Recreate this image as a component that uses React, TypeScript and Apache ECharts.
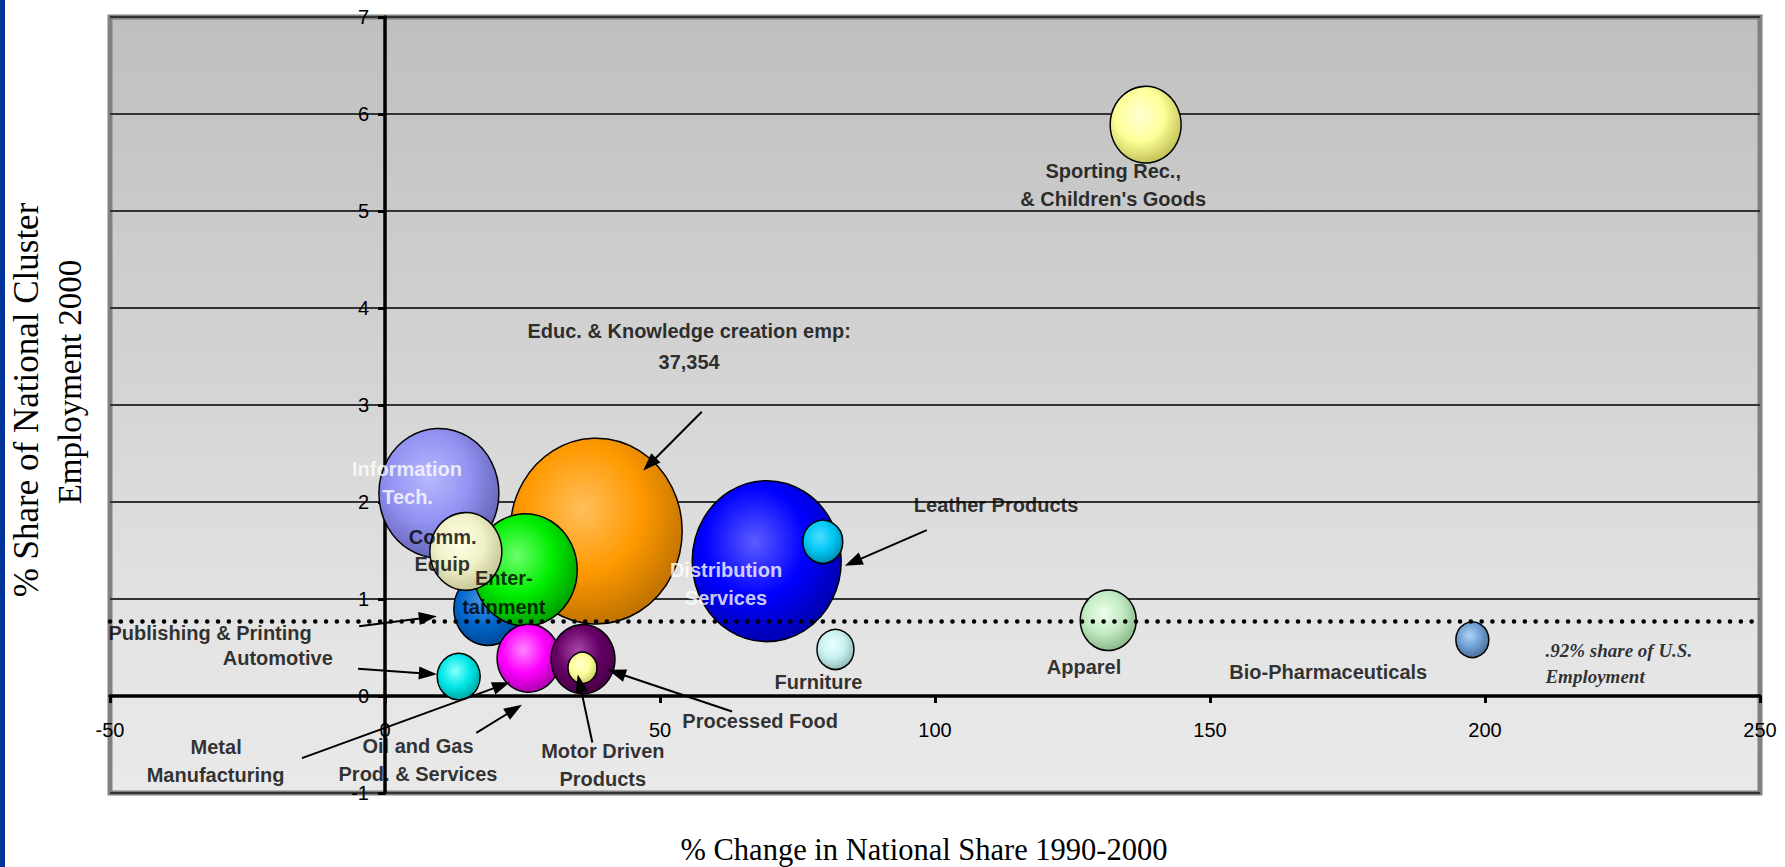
import React, { useEffect, useRef } from "react";
import * as echarts from "echarts";

// ---- Data ----
const clusters = [
  "Educ. & Knowledge Creation",
  "Information Tech.",
  "Distribution Services",
  "Publishing & Printing",
  "Entertainment",
  "Comm. Equip",
  "Metal Manufacturing",
  "Processed Food",
  "Motor Driven Products",
  "Automotive",
  "Leather Products",
  "Furniture",
  "Apparel",
  "Bio-Pharmaceuticals",
  "Sporting Rec. & Children's Goods",
];
// % change in national share 1990-2000
const pctChange = [38.4, 9.8, 69.4, 18.7, 25.5, 14.7, 26.1, 36.0, 35.9, 13.4, 79.6, 81.9, 131.5, 197.7, 138.3];
// % share of national cluster employment 2000
const shareOfEmployment = [1.7, 2.09, 1.39, 0.9, 1.3, 1.49, 0.39, 0.38, 0.29, 0.2, 1.59, 0.48, 0.78, 0.58, 5.89];
// cluster employment (bubble size)
const employment = [37354, 18180, 28030, 5840, 13650, 6545, 5010, 5170, 1060, 2335, 2020, 1730, 3960, 1375, 6364];

// axis ranges
const xMin = -50, xMax = 250, xStep = 50;
const yMin = -1, yMax = 7, yStep = 1;

// reference line: share of U.S. employment
const usShareLine = 0.77;

// annotation texts and their anchors (data coordinates)
const annotationText = [
  "Sporting Rec.,", "& Children's Goods",
  "Educ. & Knowledge creation emp:", "37,354",
  "Information", "Tech.",
  "Comm.", "Equip",
  "Enter-", "tainment",
  "Distribution", "Services",
  "Leather Products",
  "Publishing & Printing",
  "Automotive",
  "Metal", "Manufacturing",
  "Oil and Gas", "Prod. & Services",
  "Motor Driven", "Products",
  "Processed Food",
  "Furniture",
  "Apparel",
  "Bio-Pharmaceuticals",
];
const annotationX = [132.4, 132.4, 55.3, 55.3, 4.0, 4.1, 10.5, 10.4, 21.6, 21.6, 62.0, 62.0, 111.1, -31.8, -19.5, -30.7, -30.8, 6.0, 6.0, 39.6, 39.6, 68.2, 78.8, 127.1, 171.5];
const annotationY = [5.41, 5.12, 3.76, 3.44, 2.34, 2.05, 1.64, 1.36, 1.22, 0.92, 1.3, 1.01, 1.97, 0.65, 0.39, -0.53, -0.81, -0.52, -0.8, -0.57, -0.86, -0.26, 0.14, 0.3, 0.25];
const whiteAnnotations = ["Information", "Tech.", "Distribution", "Services"];

const noteText = [".92% share of U.S.", "Employment"];
const noteX = [210.9, 210.9];
const noteY = [0.47, 0.2];

// arrows: from -> to (data coordinates)
const arrowFrom = [
  [57.6, 2.93], [98.5, 1.71], [-4.7, 0.72], [-4.9, 0.28],
  [-15.1, -0.64], [16.6, -0.38], [37.7, -0.48], [63.1, -0.16],
];
const arrowTo = [
  [48.1, 2.39], [85.1, 1.38], [7.8, 0.81], [7.8, 0.23],
  [21.2, 0.11], [23.5, -0.14], [35.4, 0.13], [42.1, 0.24],
];

// ---- Styles / layout ----
const bubbleColors = [
  ["#ffbf5c", "#ff9900", "#c27400"],
  ["#b8b8ff", "#9292f2", "#6666b8"],
  ["#5c5cff", "#0000ff", "#0000b3"],
  ["#4a94e0", "#0066cc", "#004a99"],
  ["#6bff6b", "#00ee00", "#00a300"],
  ["#ffffe6", "#f0f0c8", "#c6c696"],
  ["#ff85ff", "#ff00ff", "#b300b3"],
  ["#a848a8", "#660066", "#470047"],
  ["#ffffd0", "#ffff99", "#cfcf6a"],
  ["#8affff", "#00e8e8", "#00a8a8"],
  ["#4fdcff", "#00c8f5", "#0090b3"],
  ["#eaffff", "#c8f0f0", "#93bdbd"],
  ["#ecffec", "#c2eac2", "#8cbc8c"],
  ["#b0d2f5", "#6f9fd2", "#4a7099"],
  ["#ffffd6", "#ffff99", "#c4c45a"],
];

const FONT_SANS = "'Liberation Sans', Arial, Helvetica, sans-serif";
const FONT_SERIF = "'Liberation Serif', 'Times New Roman', Times, serif";
const PX_PER_SQRT_EMP = 0.89;
const BUBBLE_ASPECT = 1.08;

const W = 1785, H = 867;
const GRID = { left: 110, right: 25, top: 17, bottom: 74 };

export default function App() {
  const ref = useRef<HTMLDivElement>(null);

  useEffect(() => {
    if (!ref.current) return;
    const chart = echarts.init(ref.current, null, { renderer: "svg" });

    const gridW = W - GRID.left - GRID.right;
    const gridH = H - GRID.top - GRID.bottom;
    // move the axes so they cross at zero (labels and ticks follow)
    const xAxisOffset = -((0 - yMin) / (yMax - yMin)) * gridH;
    const yAxisOffset = -((0 - xMin) / (xMax - xMin)) * gridW;

    const bubbleData = clusters.map((name, i) => {
      const c = bubbleColors[i];
      return {
        name,
        value: [pctChange[i], shareOfEmployment[i], employment[i]],
        itemStyle: {
          color: new echarts.graphic.RadialGradient(0.42, 0.38, 0.62, [
            { offset: 0, color: c[0] },
            { offset: 0.55, color: c[1] },
            { offset: 1, color: c[2] },
          ]),
        },
      };
    });

    const labelData = annotationText.map((t, i) => ({
      name: t,
      value: [annotationX[i], annotationY[i]],
      label: {
        color: whiteAnnotations.includes(t) ? "#ffffff" : "#000000",
      },
    }));

    const noteData = noteText.map((t, i) => ({ name: t, value: [noteX[i], noteY[i]] }));

    const option = {
      animation: false,
      backgroundColor: "#ffffff",
      grid: {
        ...GRID,
        show: true,
        borderColor: "#808080",
        borderWidth: 5,
        backgroundColor: new echarts.graphic.LinearGradient(0, 0, 0, 1, [
          { offset: 0, color: "#bfbfbf" },
          { offset: 0.45, color: "#d3d3d3" },
          { offset: 0.8, color: "#e4e4e4" },
          { offset: 1, color: "#e9e9e9" },
        ]),
      },
      xAxis: {
        type: "value",
        position: "bottom",
        offset: xAxisOffset,
        min: xMin,
        max: xMax,
        interval: xStep,
        axisLine: { show: true, onZero: false, lineStyle: { color: "#000", width: 3.5 } },
        axisTick: { show: true, length: 7, lineStyle: { color: "#000", width: 3 } },
        axisLabel: { margin: 24, color: "#000", fontSize: 20, fontFamily: FONT_SANS },
        splitLine: { show: false },
      },
      yAxis: {
        type: "value",
        position: "left",
        offset: yAxisOffset,
        min: yMin,
        max: yMax,
        interval: yStep,
        axisLine: { show: true, onZero: false, lineStyle: { color: "#000", width: 3.5 } },
        axisTick: { show: true, length: 7, lineStyle: { color: "#000", width: 3 } },
        axisLabel: { margin: 16, color: "#000", fontSize: 20, fontFamily: FONT_SANS },
        splitLine: { show: true, lineStyle: { color: "#333333", width: 2 } },
      },
      series: [
        {
          type: "scatter",
          silent: true,
          z: 3,
          data: bubbleData,
          symbol: "circle",
          symbolSize: (v: number[]) => {
            const w = PX_PER_SQRT_EMP * Math.sqrt(v[2]);
            return [w, w * BUBBLE_ASPECT];
          },
          itemStyle: { borderColor: "#000", borderWidth: 1.5, opacity: 1 },
          markLine: {
            silent: true,
            symbol: ["none", "none"],
            label: { show: false },
            lineStyle: { color: "#000", width: 4.5, type: [0.1, 10.7], cap: "round" },
            data: [{ yAxis: usShareLine }],
            z: 6,
          },
        },
        {
          type: "scatter",
          silent: true,
          z: 8,
          symbolSize: 1,
          itemStyle: { color: "rgba(0,0,0,0)" },
          data: labelData,
          label: {
            show: true,
            position: "inside",
            formatter: "{b}",
            fontFamily: FONT_SANS,
            fontWeight: "bold",
            fontSize: 20,
          },
          markLine: {
            silent: true,
            symbol: ["none", "triangle"],
            symbolSize: [13, 18],
            label: { show: false },
            lineStyle: { color: "#000", width: 2, type: "solid" },
            data: arrowFrom.map((f, i) => [{ coord: f }, { coord: arrowTo[i] }]),
            z: 7,
          },
        },
        {
          type: "scatter",
          silent: true,
          z: 8,
          symbolSize: 1,
          itemStyle: { color: "rgba(0,0,0,0)" },
          data: noteData,
          label: {
            show: true,
            position: "right",
            distance: 0,
            formatter: "{b}",
            color: "#000",
            fontFamily: FONT_SERIF,
            fontStyle: "italic",
            fontWeight: "bold",
            fontSize: 19,
          },
        },
      ],
      graphic: [
        {
          type: "rect",
          left: 0,
          top: 0,
          shape: { width: 5, height: H },
          style: { fill: "#003399" },
        },
        {
          type: "text",
          x: 26,
          y: 400,
          rotation: Math.PI / 2,
          style: {
            text: "% Share of National Cluster",
            font: `35px ${FONT_SERIF}`,
            fill: "#000",
            textAlign: "center",
            textVerticalAlign: "middle",
          },
        },
        {
          type: "text",
          x: 70,
          y: 382,
          rotation: Math.PI / 2,
          style: {
            text: "Employment 2000",
            font: `33px ${FONT_SERIF}`,
            fill: "#000",
            textAlign: "center",
            textVerticalAlign: "middle",
          },
        },
        {
          type: "text",
          x: 924,
          y: 850,
          style: {
            text: "% Change in National Share 1990-2000",
            font: `30.5px ${FONT_SERIF}`,
            fill: "#000",
            textAlign: "center",
            textVerticalAlign: "middle",
          },
        },
      ],
    };

    chart.setOption(option as any);
    return () => chart.dispose();
  }, []);

  return (
    <div
      ref={ref}
      style={{ position: "absolute", left: 0, top: 0, width: W, height: H }}
    />
  );
}
